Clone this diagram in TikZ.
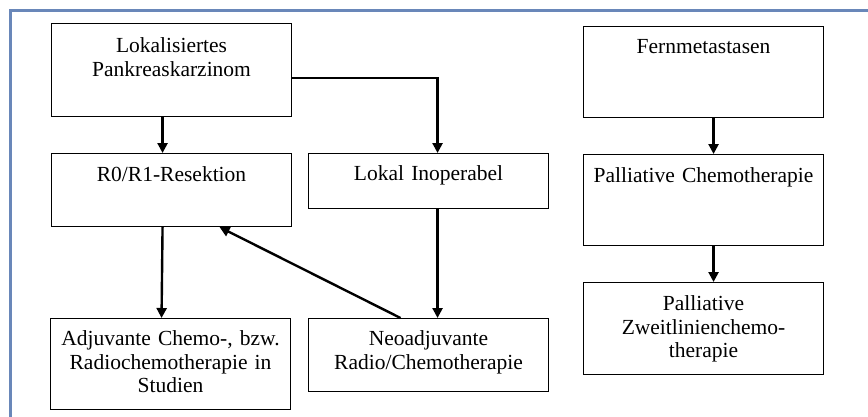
\documentclass[tikz,border=0pt]{standalone}
\usepackage{fontspec}
\setmainfont{Liberation Serif}
\usepackage{xcolor}
\usetikzlibrary{arrows.meta}
\definecolor{framecol}{RGB}{105,135,185}

\begin{document}
\begin{tikzpicture}[x=1pt, y=-1pt, >={Triangle[length=10pt,width=10pt]},
    main/.style = {draw, line width=1.1pt, anchor=north west, align=center,
      text width=236pt, inner xsep=2pt, inner ysep=0pt,
      font=\fontsize{21.5}{23.5}\selectfont},
    flow/.style = {->, line width=2.4pt}]
    \useasboundingbox (0,0) rectangle (868,416);
    \draw[framecol, line width=3pt] (10,417) -- (10,10) -- (869,10);

    \node[main, text height=29pt, text depth=64pt] (1) at (51,23)  {Lokalisiertes\\Pankreaskarzinom};
    \node[main, text height=28pt, text depth=45pt] (2) at (51,153) {R0/R1-Resektion};
    \node[main, text height=27pt, text depth=28pt] (3) at (308,153) {Lokal Inoperabel};
    \node[main, text height=27pt, text depth=64pt] (4) at (50,318) {Adjuvante Chemo-, bzw.\\Radiochemotherapie in\\Studien};
    \node[main, text height=27pt, text depth=46pt] (5) at (308,318) {Neoadjuvante\\Radio/Chemotherapie};
    \node[main, text height=27pt, text depth=64pt] (6) at (583,26)  {Fernmetastasen};
    \node[main, text height=28pt, text depth=63pt] (7) at (583,154) {Palliative Chemotherapie};
    \node[main, text height=28pt, text depth=64pt] (8) at (583,282) {Palliative\\Zweitlinienchemo-\\therapie};

    \draw[flow] ([xshift=-9pt]1.south) -- ([xshift=-9pt]2.north);
    \draw[flow] ([yshift=-8pt]1.east) -| ([xshift=9pt]3.north);
    \draw[flow] ([xshift=-9pt]2.south) -- ([xshift=-9pt]4.north);
    \draw[flow] ([xshift=9pt]3.south) -- ([xshift=9pt]5.north);
    \draw[flow] ([xshift=-28pt]5.north) -- ([xshift=48pt]2.south);
    \draw[flow] ([xshift=10pt]6.south) -- ([xshift=10pt]7.north);
    \draw[flow] ([xshift=10pt]7.south) -- ([xshift=10pt]8.north);
\end{tikzpicture}
\end{document}
